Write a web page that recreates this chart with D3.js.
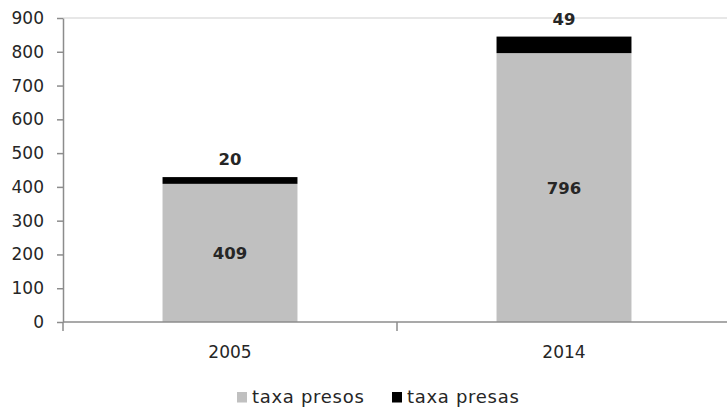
<!DOCTYPE html>
<html>
<head>
<meta charset="utf-8">
<script src="https://cdn.jsdelivr.net/npm/d3@7"></script>
<style>
  html, body { margin: 0; padding: 0; background: #fff; }
  svg { display: block; }
  text { font-family: "DejaVu Sans", Verdana, sans-serif; fill: #262626; }
</style>
</head>
<body>
<svg id="chart" width="727" height="409"></svg>
<script>
// Chart data
const categories = ["2005", "2014"];
const presos = [409, 796];
const presas = [20, 49];
const seriesNames = ["taxa presos", "taxa presas"];
const seriesColors = ["#c0c0c0", "#000000"];
const yTicks = [0, 100, 200, 300, 400, 500, 600, 700, 800, 900];

const svg = d3.select("#chart");
const plotLeft = 63, plotRight = 731, plotTop = 18, plotBottom = 322;

const x = d3.scaleBand().domain(categories).range([plotLeft, plotRight]).padding(0);
const y = d3.scaleLinear().domain([0, 900]).range([plotBottom, plotTop]);
const barW = x.bandwidth() * 0.404;

const rows = categories.map((c, i) => ({ cat: c, presos: presos[i], presas: presas[i] }));
const stacked = d3.stack().keys(["presos", "presas"])(rows);

// Top boundary line of the plot area
svg.append("line")
  .attr("x1", plotLeft).attr("x2", 727)
  .attr("y1", y(900)).attr("y2", y(900))
  .attr("stroke", "#cfcfcf").attr("stroke-width", 1.2);

// Stacked bars
svg.append("g").selectAll("g")
  .data(stacked).join("g")
  .attr("fill", (d, i) => seriesColors[i])
  .selectAll("rect")
  .data(d => d).join("rect")
  .attr("x", d => x(d.data.cat) + (x.bandwidth() - barW) / 2)
  .attr("width", barW)
  .attr("y", d => y(d[1]))
  .attr("height", d => y(d[0]) - y(d[1]));

// Y axis
const yAxis = svg.append("g")
  .attr("transform", `translate(${plotLeft},0)`)
  .call(d3.axisLeft(y).tickValues(yTicks).tickSize(6).tickPadding(13).tickSizeOuter(0));
yAxis.select(".domain").attr("stroke", "#8c8c8c").attr("stroke-width", 1.5);
yAxis.selectAll(".tick line").attr("stroke", "#8c8c8c").attr("stroke-width", 1.5);
yAxis.selectAll(".tick text")
  .style("font-family", "'DejaVu Sans', Verdana, sans-serif")
  .style("font-size", "17px").attr("fill", "#262626");

// X axis with boundary ticks between categories
const xAxisG = svg.append("g").attr("transform", `translate(0,${plotBottom})`);
xAxisG.append("line")
  .attr("x1", plotLeft).attr("x2", plotRight)
  .attr("stroke", "#8c8c8c").attr("stroke-width", 1.5);
const boundaries = categories.map(c => x(c)).concat([x(categories[categories.length - 1]) + x.bandwidth()]);
xAxisG.selectAll("line.bt").data(boundaries).join("line")
  .attr("class", "bt")
  .attr("x1", d => d).attr("x2", d => d)
  .attr("y1", 0).attr("y2", 9)
  .attr("stroke", "#8c8c8c").attr("stroke-width", 1.5);
xAxisG.selectAll("text").data(categories).join("text")
  .attr("x", d => x(d) + x.bandwidth() / 2)
  .attr("y", 36)
  .attr("text-anchor", "middle")
  .style("font-size", "17px")
  .text(d => d);

// Value labels
const lbl = svg.append("g").style("font-weight", "bold").style("font-size", "16.5px");
lbl.selectAll("text.p").data(stacked[0]).join("text")
  .attr("class", "p")
  .attr("x", d => x(d.data.cat) + x.bandwidth() / 2)
  .attr("y", d => (y(d[0]) + y(d[1])) / 2)
  .attr("dy", "0.36em")
  .attr("text-anchor", "middle")
  .text(d => d.data.presos);
lbl.selectAll("text.a").data(stacked[1]).join("text")
  .attr("class", "a")
  .attr("x", d => x(d.data.cat) + x.bandwidth() / 2)
  .attr("y", d => y(d[1]) - 18)
  .attr("dy", "0.36em")
  .attr("text-anchor", "middle")
  .text(d => d.data.presas);

// Legend
const legendX = [237, 392];
const legend = svg.append("g");
seriesNames.forEach((name, i) => {
  legend.append("rect")
    .attr("x", legendX[i]).attr("y", 392)
    .attr("width", 10).attr("height", 10.5)
    .attr("fill", seriesColors[i]);
  legend.append("text")
    .attr("x", legendX[i] + 15).attr("y", 403)
    .style("font-size", "18px")
    .style("letter-spacing", "0.7px")
    .text(name);
});
</script>
</body>
</html>
